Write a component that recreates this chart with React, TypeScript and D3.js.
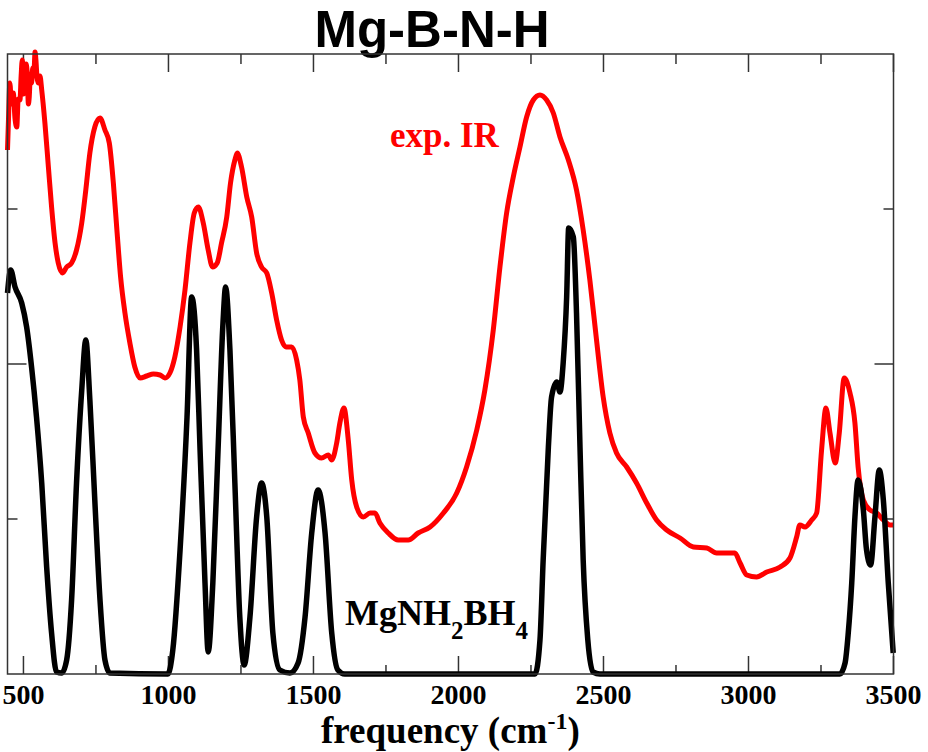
import * as d3 from 'd3';

// frequency (cm-1), intensity (arb. units)
const calcSpectrum: [number, number][] = [
  [445, 381], [456, 404], [471, 387], [494, 371], [511, 347], [528, 307],
  [545, 257], [563, 191], [580, 107], [597, 41], [614, 2], [632, 1],
  [649, 14], [666, 74], [683, 191], [701, 284], [715, 334], [729, 274],
  [746, 174], [764, 74], [781, 14], [798, 1], [998, 0], [1015, 24],
  [1040, 124], [1064, 257], [1080, 377], [1097, 324], [1109, 224],
  [1126, 91], [1137, 22], [1153, 91], [1171, 224], [1188, 351],
  [1197, 387], [1212, 324], [1229, 191], [1246, 57], [1261, 9],
  [1281, 57], [1304, 157], [1321, 191], [1339, 157], [1360, 41],
  [1384, 4], [1419, 1], [1447, 11], [1471, 57], [1494, 141], [1516, 184],
  [1540, 141], [1563, 41], [1584, 4], [1608, 0], [2264, 0], [2281, 34],
  [2292, 114], [2310, 227], [2321, 277], [2339, 292], [2350, 282],
  [2361, 311], [2373, 377], [2380, 446], [2396, 437], [2407, 361],
  [2419, 227], [2430, 114], [2446, 34], [2464, 2], [2488, 0], [3315, 0],
  [3333, 11], [3344, 41], [3356, 91], [3367, 157], [3378, 194],
  [3396, 164], [3407, 124], [3421, 109], [3436, 157], [3451, 204],
  [3465, 174], [3482, 91], [3499, 21],
];

const expSpectrum: [number, number][] = [
  [445, 524], [449, 560], [453, 591], [459, 570], [465, 581], [471, 555],
  [477, 547], [482, 575], [488, 574], [492, 598], [496, 614], [500, 580],
  [505, 587], [509, 610], [513, 601], [517, 570], [520, 577], [524, 600],
  [528, 591], [532, 606], [536, 601], [540, 622], [543, 614], [547, 596],
  [551, 591], [557, 598], [563, 584], [574, 551], [586, 507], [597, 467],
  [609, 431], [620, 411], [635, 401], [649, 407], [666, 411], [683, 424],
  [701, 451], [715, 484], [729, 521], [746, 547], [764, 556], [781, 544],
  [796, 531], [810, 491], [823, 441], [835, 397], [850, 361], [867, 331],
  [884, 307], [902, 296], [925, 298], [948, 300], [971, 299], [988, 296],
  [1005, 301], [1022, 317], [1040, 347], [1057, 384], [1074, 431],
  [1089, 461], [1103, 467], [1120, 451], [1137, 424], [1152, 407],
  [1168, 411], [1183, 431], [1201, 457], [1214, 491], [1229, 514],
  [1237, 521], [1252, 507], [1270, 477], [1287, 457], [1304, 421],
  [1321, 407], [1339, 401], [1356, 381], [1373, 354], [1390, 334],
  [1405, 327], [1425, 327], [1442, 314], [1453, 294], [1465, 257],
  [1482, 241], [1505, 221], [1528, 216], [1551, 219], [1563, 214],
  [1580, 231], [1591, 251], [1605, 266], [1620, 234], [1632, 194],
  [1649, 167], [1672, 157], [1695, 161], [1712, 161], [1729, 151],
  [1758, 141], [1792, 134], [1827, 134], [1861, 141], [1902, 147],
  [1948, 161], [1994, 181], [2028, 207], [2063, 244], [2091, 284],
  [2120, 344], [2143, 407], [2166, 461], [2189, 497], [2212, 527],
  [2235, 557], [2258, 574], [2281, 579], [2304, 574], [2327, 561],
  [2350, 537], [2379, 514], [2407, 484], [2430, 444], [2453, 394],
  [2476, 334], [2499, 277], [2522, 241], [2545, 221], [2580, 207],
  [2614, 191], [2649, 171], [2683, 154], [2718, 144], [2764, 136],
  [2810, 127], [2856, 126], [2890, 121], [2925, 121], [2953, 121],
  [2971, 111], [2994, 99], [3028, 97], [3063, 102], [3109, 107],
  [3143, 116], [3166, 137], [3177, 149], [3195, 147], [3218, 154],
  [3235, 161], [3252, 224], [3267, 266], [3281, 241], [3299, 211],
  [3313, 241], [3330, 296], [3350, 281], [3367, 251], [3378, 207],
  [3396, 174], [3419, 164], [3442, 161], [3465, 154], [3488, 149],
  [3499, 149],
];

const xMajorTicks = [500, 1000, 1500, 2000, 2500, 3000, 3500];
const xMinorTicks = [750, 1250, 1750, 2250, 2750, 3250];
const yMajorTicks = [310];
const yMinorTicks = [155, 465];

const width = 928,
  height = 752,
  left = 7.5,
  right = 893.5,
  top = 54,
  bottom = 674;

const serif = '"Liberation Serif", "Times New Roman", serif';
const sans = '"Liberation Sans", Arial, sans-serif';

export default function App() {
  const x = d3.scaleLinear().domain([445, 3500]).range([left, right]);
  const y = d3.scaleLinear().domain([0, 620]).range([bottom, top]);

  const calcLine = d3
    .line<[number, number]>()
    .x((d) => x(d[0]))
    .y((d) => y(d[1]))
    .curve(d3.curveMonotoneX);

  const expLine = d3
    .line<[number, number]>()
    .x((d) => x(d[0]))
    .y((d) => y(d[1]))
    .curve(d3.curveMonotoneX);

  const axisColor = '#333';

  return (
    <svg
      width={width}
      height={height}
      style={{ position: 'absolute', left: 0, top: 0, background: '#fff' }}
    >
      <text
        x={432}
        y={47}
        textAnchor="middle"
        fontFamily={sans}
        fontWeight="bold"
        fontSize={51}
      >
        Mg-B-N-H
      </text>

      {/* ticks, mirrored on all four sides */}
      <g stroke={axisColor} strokeWidth={1.5}>
        {xMajorTicks.map((t) => (
          <g key={'xM' + t}>
            <line x1={x(t)} x2={x(t)} y1={bottom} y2={bottom - 18} />
            <line x1={x(t)} x2={x(t)} y1={top} y2={top + 18} />
          </g>
        ))}
        {xMinorTicks.map((t) => (
          <g key={'xm' + t}>
            <line x1={x(t)} x2={x(t)} y1={bottom} y2={bottom - 9} />
            <line x1={x(t)} x2={x(t)} y1={top} y2={top + 10} />
          </g>
        ))}
        {yMajorTicks.map((t) => (
          <g key={'yM' + t}>
            <line x1={left} x2={left + 19} y1={y(t)} y2={y(t)} />
            <line x1={right} x2={right - 19} y1={y(t)} y2={y(t)} />
          </g>
        ))}
        {yMinorTicks.map((t) => (
          <g key={'ym' + t}>
            <line x1={left} x2={left + 10} y1={y(t)} y2={y(t)} />
            <line x1={right} x2={right - 10} y1={y(t)} y2={y(t)} />
          </g>
        ))}
      </g>

      <path
        d={expLine(expSpectrum) ?? ''}
        fill="none"
        stroke="#ff0000"
        strokeWidth={5}
        strokeLinejoin="round"
      />
      <path
        d={calcLine(calcSpectrum) ?? ''}
        fill="none"
        stroke="#000"
        strokeWidth={5.5}
        strokeLinejoin="round"
      />

      <rect
        x={left}
        y={top}
        width={right - left}
        height={bottom - top}
        fill="none"
        stroke={axisColor}
        strokeWidth={1.5}
      />

      {xMajorTicks.map((t) => (
        <text
          key={'lbl' + t}
          x={x(t)}
          y={704}
          textAnchor="middle"
          fontFamily={serif}
          fontWeight="bold"
          fontSize={28}
        >
          {t}
        </text>
      ))}

      <text x={321} y={743} fontFamily={serif} fontWeight="bold" fontSize={37}>
        frequency (cm
        <tspan fontSize={24} dy={-14}>
          -1
        </tspan>
        <tspan dy={14}>)</tspan>
      </text>

      <text
        x={390}
        y={147}
        fontFamily={serif}
        fontWeight="bold"
        fontSize={35}
        fill="#ff0000"
      >
        exp. IR
      </text>

      <text x={345} y={625} fontFamily={serif} fontWeight="bold" fontSize={36}>
        MgNH
        <tspan fontSize={25} dy={14}>
          2
        </tspan>
        <tspan dy={-14}>BH</tspan>
        <tspan fontSize={25} dy={14}>
          4
        </tspan>
      </text>
    </svg>
  );
}
